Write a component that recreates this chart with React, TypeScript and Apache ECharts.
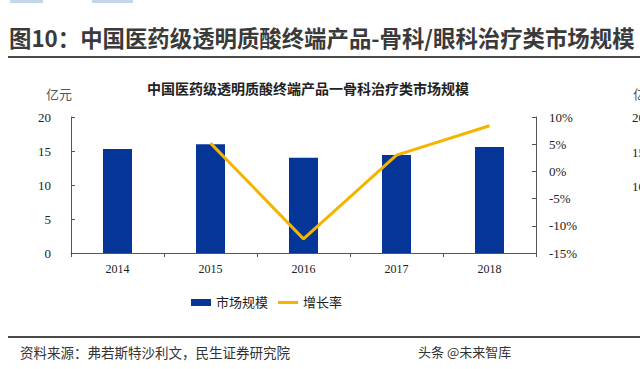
import React, { useEffect, useRef } from "react";
import * as echarts from "echarts";

const years = ["2014", "2015", "2016", "2017", "2018"];
const marketSize = [15.3, 16.0, 14.0, 14.4, 15.6];
const growthRate = [null, 5.2, -12.4, 3.0, 8.4];
const leftTicks = { min: 0, max: 20, interval: 5 };
const rightTicks = { min: -15, max: 10, interval: 5 };

const SERIF = "'Liberation Serif', 'Noto Sans CJK SC', serif";
const SANS = "'Noto Sans CJK SC', 'Noto Sans', sans-serif";

export default function App() {
  const ref = useRef<HTMLDivElement>(null);
  useEffect(() => {
    if (!ref.current) return;
    const chart = echarts.init(ref.current, null, { renderer: "svg" });
    chart.setOption({
      animation: false,
      backgroundColor: "#ffffff",
      grid: { left: 71, right: 104, top: 117, bottom: 116, containLabel: false },
      xAxis: {
        type: "category",
        data: years,
        axisLine: { lineStyle: { color: "#555", width: 1 } },
        axisTick: { show: true, inside: false, length: 4, lineStyle: { color: "#555" } },
        axisLabel: { color: "#222", fontFamily: SERIF, fontSize: 12, margin: 10 },
      },
      yAxis: [
        {
          type: "value",
          min: leftTicks.min,
          max: leftTicks.max,
          interval: leftTicks.interval,
          splitLine: { show: false },
          axisLine: { show: true, lineStyle: { color: "#555" } },
          axisTick: { show: true, inside: true, length: 4, lineStyle: { color: "#555" } },
          axisLabel: { color: "#222", fontFamily: SERIF, fontSize: 13, margin: 20 },
        },
        {
          type: "value",
          min: rightTicks.min,
          max: rightTicks.max,
          interval: rightTicks.interval,
          splitLine: { show: false },
          axisLine: { show: true, lineStyle: { color: "#555" } },
          axisTick: { show: true, inside: true, length: 4, lineStyle: { color: "#555" } },
          axisLabel: { color: "#222", fontFamily: SERIF, fontSize: 13, margin: 13, formatter: "{value}%" },
        },
      ],
      legend: {
        left: 186,
        top: 291,
        itemGap: 10,
        itemWidth: 20,
        itemHeight: 7,
        textStyle: { color: "#222", fontFamily: SERIF, fontSize: 13 },
        data: [
          { name: "市场规模", icon: "rect" },
          { name: "增长率", icon: "path://M0,0 L20,0 L20,3 L0,3 Z" },
        ],
      },
      series: [
        {
          name: "市场规模",
          type: "bar",
          data: marketSize,
          barWidth: 29,
          itemStyle: { color: "#043597" },
        },
        {
          name: "增长率",
          type: "line",
          yAxisIndex: 1,
          data: growthRate,
          symbol: "none",
          lineStyle: { color: "#F5B400", width: 3 },
          itemStyle: { color: "#F5B400" },
        },
      ],
      graphic: [
        { type: "rect", shape: { x: 10, y: 0, width: 33, height: 3 }, style: { fill: "#c3d6ea" } },
        { type: "rect", shape: { x: 92, y: 0, width: 41, height: 3 }, style: { fill: "#c3d6ea" } },
        {
          type: "text",
          left: 9,
          top: 26,
          style: {
            text: "图10：中国医药级透明质酸终端产品-骨科/眼科治疗类市场规模",
            fill: "#3a3a3a",
            font: `bold 22.4px ${SANS}`,
          },
        },
        { type: "rect", shape: { x: 8, y: 56, width: 632, height: 2 }, style: { fill: "#4a4a4a" } },
        {
          type: "text",
          left: 147,
          top: 82,
          style: {
            text: "中国医药级透明质酸终端产品一骨科治疗类市场规模",
            fill: "#222",
            font: `bold 14px ${SERIF}`,
          },
        },
        { type: "text", left: 46, top: 88, style: { text: "亿元", fill: "#555", font: `13px ${SERIF}` } },
        { type: "text", left: 633, top: 88, style: { text: "亿元", fill: "#555", font: `13px ${SERIF}` } },
        { type: "text", left: 632, top: 111, style: { text: "20", fill: "#222", font: `13px ${SERIF}` } },
        { type: "text", left: 632, top: 146, style: { text: "15", fill: "#222", font: `13px ${SERIF}` } },
        { type: "text", left: 632, top: 180, style: { text: "10", fill: "#222", font: `13px ${SERIF}` } },
        { type: "rect", shape: { x: 8, y: 336, width: 632, height: 2 }, style: { fill: "#4a4a4a" } },
        {
          type: "text",
          left: 20,
          top: 345,
          style: { text: "资料来源：弗若斯特沙利文，民生证券研究院", fill: "#333", font: `13.5px ${SANS}` },
        },
        {
          type: "text",
          left: 418,
          top: 345,
          style: { text: "头条 @未来智库", fill: "#333", font: `13px ${SANS}` },
        },
      ],
    });
    return () => chart.dispose();
  }, []);
  return (
    <div
      ref={ref}
      style={{ position: "fixed", left: 0, top: 0, width: 640, height: 369, background: "#fff" }}
    />
  );
}
